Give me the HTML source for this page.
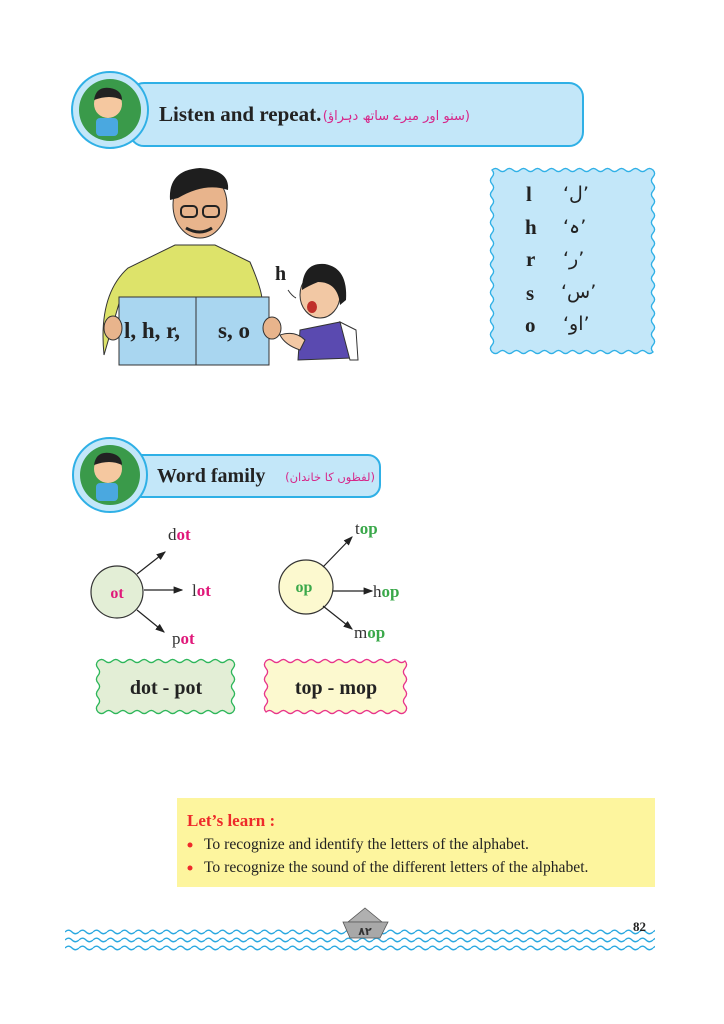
<!DOCTYPE html>
<html><head><meta charset="utf-8"><style>
html,body{margin:0;padding:0;background:#fff;}
svg{display:block;}
.s{font-family:"Liberation Serif",serif;}
.u{font-family:"DejaVu Sans",sans-serif;}
</style></head><body>
<svg id="sv" width="724" height="1024" viewBox="0 0 724 1024" xmlns="http://www.w3.org/2000/svg">
<defs>
<marker id="ar" markerWidth="8" markerHeight="8" refX="7" refY="4" orient="auto"><path d="M0,1 L8,4 L0,7 Z" fill="#222"/></marker>
<pattern id="wv" x="65" y="0" width="14" height="8" patternUnits="userSpaceOnUse"><path d="M0,4 Q3.5,0.5 7,4 T14,4" fill="none" stroke="#2aa8e0" stroke-width="1.3"/></pattern>
</defs>

<!-- Banner 1 -->
<rect x="130" y="83" width="453" height="63" rx="14" fill="#c3e7f9" stroke="#2fb0e6" stroke-width="2"/>
<circle cx="110" cy="110" r="38" fill="#c3e7f9" stroke="#2fb0e6" stroke-width="2"/>
<circle cx="110" cy="110" r="31" fill="#3a9a4a"/>
<circle cx="108" cy="104" r="14" fill="#f5c8a0"/>
<path d="M94,100 Q96,86 110,88 Q122,90 122,100 Q110,94 94,100Z" fill="#222"/>
<rect x="96" y="118" width="22" height="18" rx="4" fill="#4aa8e0"/>
<text x="159" y="121" class="s" font-size="21" font-weight="bold" fill="#222">Listen and repeat.</text>
<text x="470" y="120" text-anchor="end" class="u" font-size="13" fill="#d6288a">(سنو اور میرے ساتھ دہراؤ)</text>

<!-- Teacher -->
<path d="M104,355 Q98,295 128,268 L175,245 L215,245 L250,262 Q262,290 262,300 L120,300 Z" fill="#dde36a" stroke="#333" stroke-width="1"/>
<ellipse cx="200" cy="205" rx="27" ry="33" fill="#e8b48c" stroke="#333" stroke-width="1"/>
<path d="M170,200 Q168,170 200,168 Q230,170 228,190 Q205,182 178,198Z" fill="#1e1e1e"/>
<rect x="181" y="206" width="16" height="11" rx="4" fill="none" stroke="#222" stroke-width="2"/>
<rect x="203" y="206" width="16" height="11" rx="4" fill="none" stroke="#222" stroke-width="2"/>
<path d="M186,228 Q200,236 212,228" fill="none" stroke="#222" stroke-width="3"/>
<rect x="119" y="297" width="150" height="68" fill="#a9d6f0" stroke="#333" stroke-width="1"/>
<line x1="196" y1="297" x2="196" y2="365" stroke="#333"/>
<ellipse cx="113" cy="328" rx="9" ry="12" fill="#e8b48c" stroke="#333"/>
<ellipse cx="272" cy="328" rx="9" ry="11" fill="#e8b48c" stroke="#333"/>
<text x="124" y="338" class="s" font-size="23" font-weight="bold" fill="#222">l, h, r,</text>
<text x="218" y="338" class="s" font-size="23" font-weight="bold" fill="#222">s, o</text>

<!-- Girl -->
<text x="275" y="280" class="s" font-size="20" font-weight="bold" fill="#222">h</text>
<path d="M288,290 Q292,296 296,298" stroke="#333" fill="none"/>
<path d="M300,330 L340,322 L352,358 L298,360 Z" fill="#5a4ab0" stroke="#333"/>
<path d="M340,322 L356,330 L358,360 L350,360 Z" fill="#fff" stroke="#333"/>
<ellipse cx="320" cy="295" rx="20" ry="23" fill="#f2c8a4" stroke="#333"/>
<path d="M302,290 Q302,262 325,264 Q348,268 346,300 L340,305 Q338,282 318,282 Q308,286 302,290Z" fill="#1e1e1e"/>
<ellipse cx="312" cy="307" rx="5" ry="6" fill="#c0302a"/>
<path d="M280,335 Q295,330 305,340 L300,350 Q285,345 280,335Z" fill="#f2c8a4" stroke="#333"/>

<!-- Letter box -->
<path id="lb" d="" fill="#c3e7f9" stroke="#2fb0e6" stroke-width="1.3"/>
<g class="s" font-size="21" font-weight="bold" fill="#222">
<text x="526" y="201">l</text><text x="525" y="234">h</text><text x="526" y="266">r</text><text x="526" y="300">s</text><text x="525" y="332">o</text>
</g>
<g class="u" font-size="19" fill="#222">
<text x="563" y="200">‘ل’</text><text x="563" y="233">‘ہ’</text><text x="563" y="265">‘ر’</text><text x="561" y="298">‘س’</text><text x="563" y="330">‘او’</text>
</g>

<!-- Banner 2 -->
<rect x="130" y="455" width="250" height="42" rx="12" fill="#c3e7f9" stroke="#2fb0e6" stroke-width="2"/>
<circle cx="110" cy="475" r="37" fill="#c3e7f9" stroke="#2fb0e6" stroke-width="2"/>
<circle cx="110" cy="475" r="30" fill="#3a9a4a"/>
<circle cx="108" cy="469" r="14" fill="#f5c8a0"/>
<path d="M94,465 Q96,451 110,453 Q122,455 122,465 Q110,459 94,465Z" fill="#222"/>
<rect x="96" y="483" width="22" height="18" rx="4" fill="#4aa8e0"/>
<text x="157" y="482" class="s" font-size="20" font-weight="bold" fill="#222">Word family</text>
<text x="375" y="481" text-anchor="end" class="u" font-size="11.5" fill="#d6288a">(لفظوں کا خاندان)</text>

<!-- ot diagram -->
<circle cx="117" cy="592" r="26" fill="#e3eed6" stroke="#333" stroke-width="1.2"/>
<text x="117" y="598" text-anchor="middle" class="s" font-size="16" font-weight="bold" fill="#e0187a">ot</text>
<line x1="137" y1="574" x2="165" y2="552" stroke="#222" stroke-width="1.2" marker-end="url(#ar)"/>
<line x1="144" y1="590" x2="182" y2="590" stroke="#222" stroke-width="1.2" marker-end="url(#ar)"/>
<line x1="137" y1="610" x2="164" y2="632" stroke="#222" stroke-width="1.2" marker-end="url(#ar)"/>
<text x="168" y="540" class="s" font-size="17" fill="#333">d<tspan font-weight="bold" fill="#e0187a">ot</tspan></text>
<text x="192" y="596" class="s" font-size="17" fill="#333">l<tspan font-weight="bold" fill="#e0187a">ot</tspan></text>
<text x="172" y="644" class="s" font-size="17" fill="#333">p<tspan font-weight="bold" fill="#e0187a">ot</tspan></text>

<!-- op diagram -->
<circle cx="306" cy="587" r="27" fill="#fcf9cf" stroke="#333" stroke-width="1.2"/>
<text x="304" y="592" text-anchor="middle" class="s" font-size="16" font-weight="bold" fill="#3aa84a">op</text>
<line x1="323" y1="567" x2="352" y2="537" stroke="#222" stroke-width="1.2" marker-end="url(#ar)"/>
<line x1="333" y1="591" x2="372" y2="591" stroke="#222" stroke-width="1.2" marker-end="url(#ar)"/>
<line x1="323" y1="606" x2="352" y2="629" stroke="#222" stroke-width="1.2" marker-end="url(#ar)"/>
<text x="355" y="534" class="s" font-size="17" fill="#333">t<tspan font-weight="bold" fill="#3aa84a">op</tspan></text>
<text x="373" y="597" class="s" font-size="17" fill="#333">h<tspan font-weight="bold" fill="#3aa84a">op</tspan></text>
<text x="354" y="638" class="s" font-size="17" fill="#333">m<tspan font-weight="bold" fill="#3aa84a">op</tspan></text>

<!-- word boxes -->
<path id="b1" d="" fill="#e3eed6" stroke="#2db65a" stroke-width="1.3"/>
<path id="b2" d="" fill="#fcf9cf" stroke="#e8348a" stroke-width="1.3"/>
<text x="166" y="694" text-anchor="middle" class="s" font-size="20" font-weight="bold" fill="#222">dot - pot</text>
<text x="336" y="694" text-anchor="middle" class="s" font-size="20" font-weight="bold" fill="#222">top - mop</text>

<!-- Let's learn -->
<rect x="177" y="798" width="478" height="89" fill="#fdf59e"/>
<text x="187" y="826" class="s" font-size="17" font-weight="bold" fill="#ee2a2a">Let’s learn :</text>
<circle cx="190" cy="845" r="2.5" fill="#ee2a2a"/>
<circle cx="190" cy="868" r="2.5" fill="#ee2a2a"/>
<text x="204" y="849" class="s" font-size="15.6" fill="#222">To recognize and identify the letters of the alphabet.</text>
<text x="204" y="872" class="s" font-size="15.6" fill="#222">To recognize the sound of the different letters of the alphabet.</text>

<!-- footer -->
<rect x="65" y="929" width="590" height="8" fill="url(#wv)"/>
<rect x="65" y="936" width="590" height="8" fill="url(#wv)"/>
<rect x="65" y="943" width="590" height="8" fill="url(#wv)"/>
<path d="M365,908 L382,922 L348,922 Z" fill="#b0b0b0" stroke="#555" stroke-width="0.8"/>
<path d="M343,922 L388,922 L380,938 L350,938 Z" fill="#a8a8a8" stroke="#555" stroke-width="0.8"/>
<text x="365" y="935" text-anchor="middle" class="u" font-size="11" font-weight="bold" fill="#333">۸۲</text>
<text x="633" y="931" class="s" font-size="13" font-weight="bold" fill="#222">82</text>
</svg>
<script>
function wavy(x1,y1,x2,y2,w,a){
  var d="M"+x1+","+y1;
  function side(ax,ay,bx,by){
    var L=Math.hypot(bx-ax,by-ay),n=Math.max(1,Math.round(L/w)),dx=(bx-ax)/n,dy=(by-ay)/n;
    var nx=-dy/(L/n),ny=dx/(L/n);
    for(var i=0;i<n;i++){
      var sx=ax+dx*i,sy=ay+dy*i,s=(i%2?1:-1)*a;
      d+=" Q"+(sx+dx/2+nx*s*2).toFixed(1)+","+(sy+dy/2+ny*s*2).toFixed(1)+" "+(sx+dx).toFixed(1)+","+(sy+dy).toFixed(1);
    }
  }
  side(x1,y1,x2,y1);side(x2,y1,x2,y2);side(x2,y2,x1,y2);side(x1,y2,x1,y1);
  return d+"Z";
}
document.getElementById("lb").setAttribute("d",wavy(492,170,653,352,7,1.6));
document.getElementById("b1").setAttribute("d",wavy(98,661,233,712,7,1.6));
document.getElementById("b2").setAttribute("d",wavy(266,661,405,712,7,1.6));
</script>
</body></html>
